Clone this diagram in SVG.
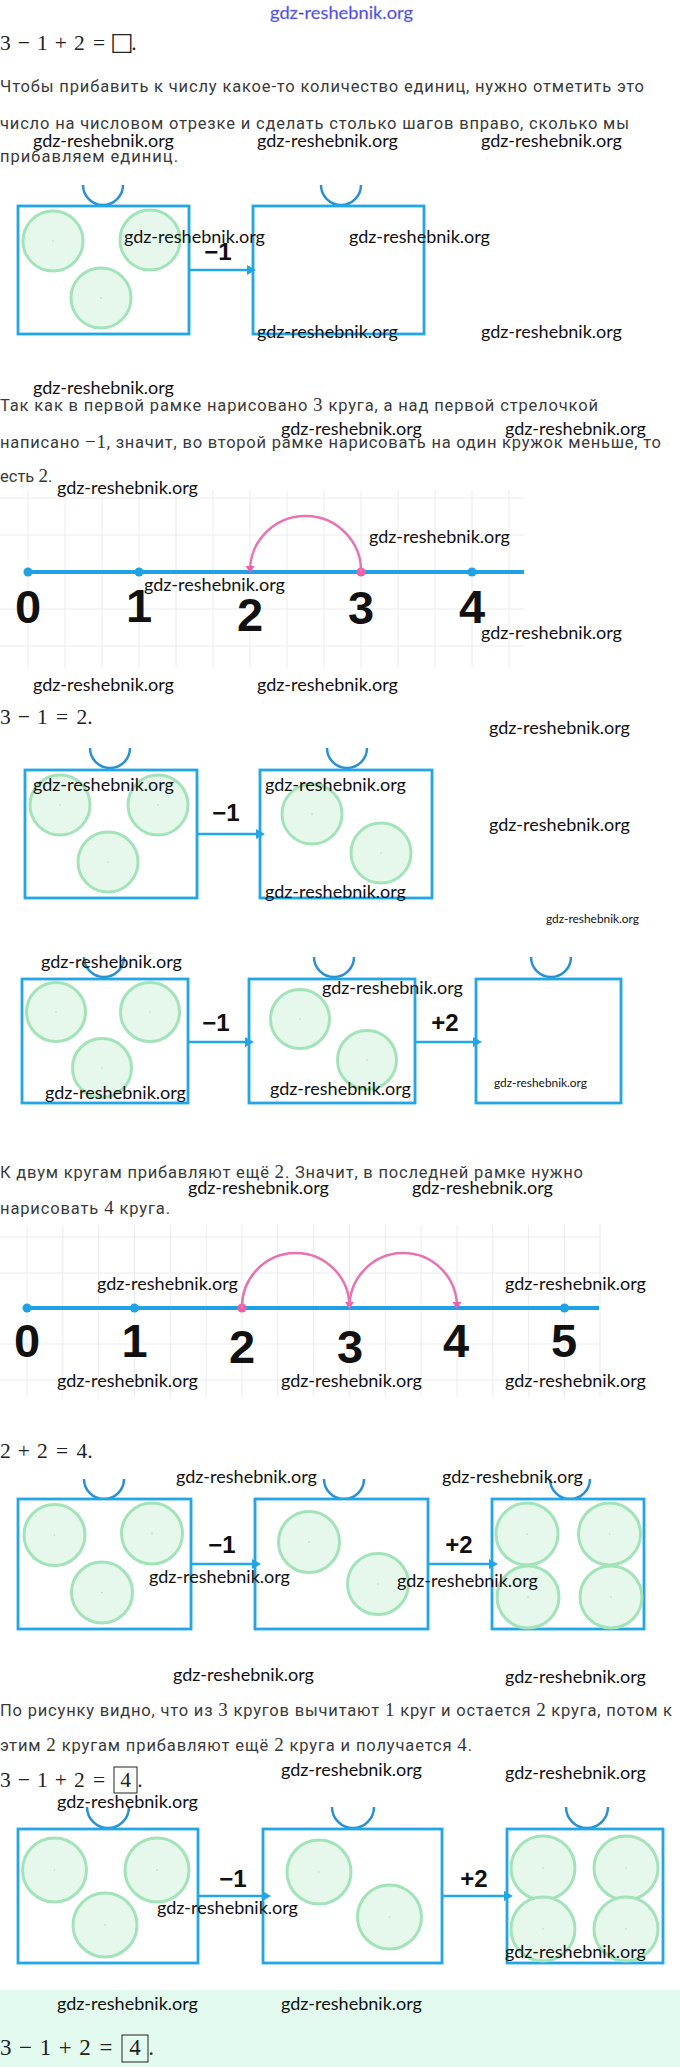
<svg xmlns="http://www.w3.org/2000/svg" width="680" height="2067" viewBox="0 0 680 2067">
<defs>
<style>
.t{font-family:Roboto,"Noto Sans","DejaVu Sans",sans-serif;font-size:16.5px;fill:#3a3a3a}
.mi{font-family:"Liberation Serif","DejaVu Serif",serif;font-size:19px;fill:#333}
.m{font-family:"Liberation Serif","DejaVu Serif",serif;font-size:21.5px;fill:#222;text-anchor:middle}
.m2{font-family:"Liberation Serif","DejaVu Serif",serif;font-size:23px;fill:#222;text-anchor:middle}
.w{font-family:Lato,"Liberation Sans",sans-serif;font-size:17.5px;fill:#111}
.ws{font-family:Lato,"Liberation Sans",sans-serif;font-size:11.5px;fill:#111}
.hd{font-family:Lato,"Liberation Sans",sans-serif;font-size:17px;fill:#3b3bd6;stroke:#9aa0f0;stroke-width:0.4}
.fr{fill:#fff;stroke:#22a6e6;stroke-width:2.8}
.cup{fill:none;stroke:#2a90d4;stroke-width:2.5}
.c{fill:#e6f8eb;stroke:#a3e3b9;stroke-width:3}
.cd{fill:#b5d9c0}
.cn{stroke:#22a6e6;stroke-width:2.6;fill:none;marker-end:url(#ah)}
.lb{font-family:"Liberation Sans",Arial,sans-serif;font-weight:bold;font-size:24px;fill:#111;text-anchor:middle}
.num{font-family:"Liberation Sans",Arial,sans-serif;font-weight:bold;font-size:47px;fill:#111;text-anchor:middle}
.gr{stroke:#ececec;stroke-width:1}
.ax{stroke:#1fa2e5;stroke-width:4}
.bd{fill:#1fa2e5}
.pd{fill:#ea5fa8}
.hop{fill:none;stroke:#e873b0;stroke-width:2.5;marker-end:url(#ph)}
.bx{fill:none;stroke:#222;stroke-width:1}
</style>
<marker id="ah" markerUnits="userSpaceOnUse" markerWidth="12" markerHeight="12" refX="3" refY="5" orient="auto">
<path d="M0,0 L9,5 L0,10 z" fill="#22a6e6"/>
</marker>
<marker id="ph" markerUnits="userSpaceOnUse" markerWidth="12" markerHeight="12" refX="4" refY="4.5" orient="auto">
<path d="M0,0 L7,4.5 L0,9 z" fill="#ea5fa8"/>
</marker>
</defs>
<rect width="680" height="2067" fill="#fff"/>
<rect x="0" y="1990" width="680" height="77" fill="#e3fbee"/>

<text class="hd" x="270" y="19" textLength="143" lengthAdjust="spacingAndGlyphs">gdz-reshebnik.org</text>

<g id="formula-1">
<text class="m" y="50"><tspan x="5.4">3</tspan><tspan x="23.9">−</tspan><tspan x="42.4">1</tspan><tspan x="60.9">+</tspan><tspan x="79.4">2</tspan><tspan x="99.1">=</tspan><tspan x="122" style="font-family:'DejaVu Sans',sans-serif;font-size:25px">□</tspan><tspan x="134">.</tspan></text>
</g>

<g id="text-1">
<text class="t" x="0" y="92" textLength="644">Чтобы прибавить к числу какое-то количество единиц, нужно отметить это</text>
<text class="t" x="0" y="129" textLength="629">число на числовом отрезке и сделать столько шагов вправо, сколько мы</text>
<text class="t" x="0" y="162" textLength="178">прибавляем единиц.</text>
</g>

<!-- Diagram A -->
<g id="diagA">
<g id="A-frame1">
<path class="cup" d="M83 185 A20 20 0 0 0 123 185"/>
<rect class="fr" x="18" y="206" width="171" height="128"/>
<circle class="c" cx="53" cy="241" r="30"/><circle class="cd" cx="53" cy="241" r="0.8"/>
<circle class="c" cx="150" cy="240" r="30"/><circle class="cd" cx="150" cy="240" r="0.8"/>
<circle class="c" cx="101" cy="298" r="30"/><circle class="cd" cx="101" cy="298" r="0.8"/>
</g>
<g id="A-frame2">
<path class="cup" d="M321 185 A20 20 0 0 0 361 185"/>
<rect class="fr" x="253" y="206" width="171" height="128"/>
</g>
<g id="A-connectors">
<line class="cn" x1="189" y1="270" x2="250" y2="270"/>
<text class="lb" x="218" y="260">−1</text>
</g>
</g>

<g id="text-2">
<text class="t" x="0" y="411" textLength="598">Так как в первой рамке нарисовано <tspan class="mi">3</tspan> круга, а над первой стрелочкой</text>
<text class="t" x="0" y="448" textLength="661">написано <tspan class="mi">−1</tspan>, значит, во второй рамке нарисовать на один кружок меньше, то</text>
<text class="t" x="0" y="482">есть <tspan class="mi">2</tspan>.</text>
</g>

<!-- Number line 1 -->
<g id="numberline-1">
<g id="NL1-grid">
<line class="gr" x1="0" y1="498" x2="524" y2="498"/>
<line class="gr" x1="0" y1="535" x2="524" y2="535"/>
<line class="gr" x1="0" y1="609" x2="524" y2="609"/>
<line class="gr" x1="0" y1="646" x2="524" y2="646"/>
<line class="gr" x1="28" y1="490" x2="28" y2="668"/>
<line class="gr" x1="65" y1="490" x2="65" y2="668"/>
<line class="gr" x1="102" y1="490" x2="102" y2="668"/>
<line class="gr" x1="139" y1="490" x2="139" y2="668"/>
<line class="gr" x1="176" y1="490" x2="176" y2="668"/>
<line class="gr" x1="213" y1="490" x2="213" y2="668"/>
<line class="gr" x1="250" y1="490" x2="250" y2="668"/>
<line class="gr" x1="287" y1="490" x2="287" y2="668"/>
<line class="gr" x1="324" y1="490" x2="324" y2="668"/>
<line class="gr" x1="361" y1="490" x2="361" y2="668"/>
<line class="gr" x1="398" y1="490" x2="398" y2="668"/>
<line class="gr" x1="435" y1="490" x2="435" y2="668"/>
<line class="gr" x1="472" y1="490" x2="472" y2="668"/>
<line class="gr" x1="509" y1="490" x2="509" y2="668"/>
</g>
<line class="ax" x1="28" y1="572" x2="524" y2="572"/>
<circle class="bd" cx="28" cy="572" r="4.5"/>
<circle class="bd" cx="139" cy="572" r="4.5"/>
<circle class="pd" cx="361" cy="572" r="4.5"/>
<circle class="bd" cx="472" cy="572" r="4.5"/>
<path class="hop" d="M361 572 A55.5 55 0 0 0 250 570"/>
<text class="num" x="28" y="623">0</text>
<text class="num" x="139" y="622">1</text>
<text class="num" x="250" y="631">2</text>
<text class="num" x="361" y="624">3</text>
<text class="num" x="472" y="623">4</text>
</g>

<g id="formula-2">
<text class="m" y="724"><tspan x="5.4">3</tspan><tspan x="23.9">−</tspan><tspan x="42.4">1</tspan><tspan x="62.1">=</tspan><tspan x="81.8">2</tspan><tspan x="90">.</tspan></text>
</g>

<!-- Diagram B -->
<g id="diagB">
<g id="B-frame1">
<path class="cup" d="M90 748 A20 20 0 0 0 130 748"/>
<rect class="fr" x="25" y="770" width="172" height="128"/>
<circle class="c" cx="60" cy="805" r="30"/><circle class="cd" cx="60" cy="805" r="0.8"/>
<circle class="c" cx="158" cy="805" r="30"/><circle class="cd" cx="158" cy="805" r="0.8"/>
<circle class="c" cx="108" cy="862" r="30"/><circle class="cd" cx="108" cy="862" r="0.8"/>
</g>
<g id="B-frame2">
<path class="cup" d="M327 748 A20 20 0 0 0 367 748"/>
<rect class="fr" x="260" y="770" width="172" height="128"/>
<circle class="c" cx="312" cy="814" r="30"/><circle class="cd" cx="312" cy="814" r="0.8"/>
<circle class="c" cx="381" cy="853" r="30"/><circle class="cd" cx="381" cy="853" r="0.8"/>
</g>
<g id="B-connectors">
<line class="cn" x1="197" y1="834" x2="259" y2="834"/>
<text class="lb" x="226" y="821">−1</text>
</g>
</g>

<!-- Diagram C -->
<g id="diagC">
<g id="C-frame1">
<path class="cup" d="M84 957 A20 20 0 0 0 124 957"/>
<rect class="fr" x="22" y="979" width="166" height="124"/>
<circle class="c" cx="56" cy="1012" r="29.5"/><circle class="cd" cx="56" cy="1012" r="0.8"/>
<circle class="c" cx="150" cy="1012" r="29.5"/><circle class="cd" cx="150" cy="1012" r="0.8"/>
<circle class="c" cx="102" cy="1068" r="29.5"/><circle class="cd" cx="102" cy="1068" r="0.8"/>
</g>
<g id="C-frame2">
<path class="cup" d="M314 957 A20 20 0 0 0 354 957"/>
<rect class="fr" x="249" y="979" width="166" height="124"/>
<circle class="c" cx="300" cy="1019" r="29.5"/><circle class="cd" cx="300" cy="1019" r="0.8"/>
<circle class="c" cx="367" cy="1060" r="29.5"/><circle class="cd" cx="367" cy="1060" r="0.8"/>
</g>
<g id="C-frame3">
<path class="cup" d="M531 957 A20 20 0 0 0 571 957"/>
<rect class="fr" x="476" y="979" width="145" height="124"/>
</g>
<g id="C-connectors">
<line class="cn" x1="188" y1="1042" x2="248" y2="1042"/>
<text class="lb" x="216" y="1031">−1</text>
<line class="cn" x1="415" y1="1042" x2="476" y2="1042"/>
<text class="lb" x="445" y="1031">+2</text>
</g>
</g>

<g id="text-3">
<text class="t" x="0" y="1178" textLength="583">К двум кругам прибавляют ещё <tspan class="mi">2</tspan>. Значит, в последней рамке нужно</text>
<text class="t" x="0" y="1214" textLength="170">нарисовать <tspan class="mi">4</tspan> круга.</text>
</g>

<!-- Number line 2 -->
<g id="numberline-2">
<g id="NL2-grid">
<line class="gr" x1="0" y1="1237" x2="600" y2="1237"/>
<line class="gr" x1="0" y1="1273" x2="600" y2="1273"/>
<line class="gr" x1="0" y1="1344" x2="600" y2="1344"/>
<line class="gr" x1="0" y1="1380" x2="600" y2="1380"/>
<line class="gr" x1="27" y1="1225" x2="27" y2="1397"/>
<line class="gr" x1="62.8" y1="1225" x2="62.8" y2="1397"/>
<line class="gr" x1="98.7" y1="1225" x2="98.7" y2="1397"/>
<line class="gr" x1="134.5" y1="1225" x2="134.5" y2="1397"/>
<line class="gr" x1="170.3" y1="1225" x2="170.3" y2="1397"/>
<line class="gr" x1="206.2" y1="1225" x2="206.2" y2="1397"/>
<line class="gr" x1="242" y1="1225" x2="242" y2="1397"/>
<line class="gr" x1="277.8" y1="1225" x2="277.8" y2="1397"/>
<line class="gr" x1="313.7" y1="1225" x2="313.7" y2="1397"/>
<line class="gr" x1="349.5" y1="1225" x2="349.5" y2="1397"/>
<line class="gr" x1="385.3" y1="1225" x2="385.3" y2="1397"/>
<line class="gr" x1="421.2" y1="1225" x2="421.2" y2="1397"/>
<line class="gr" x1="457" y1="1225" x2="457" y2="1397"/>
<line class="gr" x1="492.8" y1="1225" x2="492.8" y2="1397"/>
<line class="gr" x1="528.7" y1="1225" x2="528.7" y2="1397"/>
<line class="gr" x1="564.5" y1="1225" x2="564.5" y2="1397"/>
<line class="gr" x1="600" y1="1225" x2="600" y2="1397"/>
</g>
<line class="ax" x1="27" y1="1308" x2="599" y2="1308"/>
<circle class="bd" cx="27" cy="1308" r="4.5"/>
<circle class="bd" cx="134.5" cy="1308" r="4.5"/>
<circle class="pd" cx="242" cy="1308" r="4.5"/>
<circle class="bd" cx="564.5" cy="1308" r="4.5"/>
<path class="hop" d="M242 1308 A53.75 54 0 0 1 349.5 1306"/>
<path class="hop" d="M349.5 1308 A53.75 54 0 0 1 457 1306"/>
<text class="num" x="27" y="1357">0</text>
<text class="num" x="134.5" y="1357">1</text>
<text class="num" x="242" y="1363">2</text>
<text class="num" x="350" y="1363">3</text>
<text class="num" x="456" y="1357">4</text>
<text class="num" x="564" y="1357">5</text>
</g>

<g id="formula-3">
<text class="m" y="1458"><tspan x="5.4">2</tspan><tspan x="23.9">+</tspan><tspan x="42.4">2</tspan><tspan x="62.1">=</tspan><tspan x="81.8">4</tspan><tspan x="90">.</tspan></text>
</g>

<!-- Diagram D -->
<g id="diagD">
<g id="D-frame1">
<path class="cup" d="M84 1479 A20 20 0 0 0 124 1479"/>
<rect class="fr" x="18" y="1499" width="173" height="130"/>
<circle class="c" cx="54.5" cy="1535" r="30.5"/><circle class="cd" cx="54.5" cy="1535" r="0.8"/>
<circle class="c" cx="152" cy="1533.5" r="30.5"/><circle class="cd" cx="152" cy="1533.5" r="0.8"/>
<circle class="c" cx="102" cy="1592.5" r="30.5"/><circle class="cd" cx="102" cy="1592.5" r="0.8"/>
</g>
<g id="D-frame2">
<path class="cup" d="M324 1479 A20 20 0 0 0 364 1479"/>
<rect class="fr" x="255" y="1499" width="173" height="130"/>
<circle class="c" cx="309" cy="1542" r="30.5"/><circle class="cd" cx="309" cy="1542" r="0.8"/>
<circle class="c" cx="378" cy="1584" r="30.5"/><circle class="cd" cx="378" cy="1584" r="0.8"/>
</g>
<g id="D-frame3">
<path class="cup" d="M550 1479 A20 20 0 0 0 590 1479"/>
<rect class="fr" x="492" y="1499" width="152" height="130"/>
<circle class="c" cx="527" cy="1534" r="31"/><circle class="cd" cx="527" cy="1534" r="0.8"/>
<circle class="c" cx="609.5" cy="1534" r="31"/><circle class="cd" cx="609.5" cy="1534" r="0.8"/>
<circle class="c" cx="528" cy="1597" r="31"/><circle class="cd" cx="528" cy="1597" r="0.8"/>
<circle class="c" cx="611" cy="1597" r="31"/><circle class="cd" cx="611" cy="1597" r="0.8"/>
</g>
<g id="D-connectors">
<line class="cn" x1="191" y1="1564" x2="255" y2="1564"/>
<text class="lb" x="222" y="1553">−1</text>
<line class="cn" x1="428" y1="1564" x2="492" y2="1564"/>
<text class="lb" x="459" y="1553">+2</text>
</g>
</g>

<g id="text-4">
<text class="t" x="0" y="1716" textLength="672">По рисунку видно, что из <tspan class="mi">3</tspan> кругов вычитают <tspan class="mi">1</tspan> круг и остается <tspan class="mi">2</tspan> круга, потом к</text>
<text class="t" x="0" y="1751" textLength="472">этим <tspan class="mi">2</tspan> кругам прибавляют ещё <tspan class="mi">2</tspan> круга и получается <tspan class="mi">4</tspan>.</text>
</g>

<g id="formula-4">
<text class="m" y="1787"><tspan x="5.4">3</tspan><tspan x="23.9">−</tspan><tspan x="42.4">1</tspan><tspan x="60.9">+</tspan><tspan x="79.4">2</tspan><tspan x="99.1">=</tspan><tspan x="125.5">4</tspan><tspan x="140">.</tspan></text>
<rect class="bx" x="114" y="1767" width="23" height="26"/>
</g>

<!-- Diagram E -->
<g id="diagE">
<g id="E-frame1">
<path class="cup" d="M87 1807 A21 21 0 0 0 129 1807"/>
<rect class="fr" x="18" y="1829" width="180" height="134"/>
<circle class="c" cx="54.5" cy="1870" r="32"/><circle class="cd" cx="54.5" cy="1870" r="0.8"/>
<circle class="c" cx="157" cy="1870" r="32"/><circle class="cd" cx="157" cy="1870" r="0.8"/>
<circle class="c" cx="105" cy="1925" r="32"/><circle class="cd" cx="105" cy="1925" r="0.8"/>
</g>
<g id="E-frame2">
<path class="cup" d="M332 1807 A21 21 0 0 0 374 1807"/>
<rect class="fr" x="263" y="1829" width="179" height="134"/>
<circle class="c" cx="319" cy="1872" r="32"/><circle class="cd" cx="319" cy="1872" r="0.8"/>
<circle class="c" cx="389.5" cy="1917" r="32"/><circle class="cd" cx="389.5" cy="1917" r="0.8"/>
</g>
<g id="E-frame3">
<path class="cup" d="M566 1807 A21 21 0 0 0 608 1807"/>
<rect class="fr" x="507" y="1829" width="156" height="134"/>
<circle class="c" cx="543" cy="1868" r="32"/><circle class="cd" cx="543" cy="1868" r="0.8"/>
<circle class="c" cx="626" cy="1868" r="32"/><circle class="cd" cx="626" cy="1868" r="0.8"/>
<circle class="c" cx="543" cy="1929" r="32"/><circle class="cd" cx="543" cy="1929" r="0.8"/>
<circle class="c" cx="626" cy="1929" r="32"/><circle class="cd" cx="626" cy="1929" r="0.8"/>
</g>
<g id="E-connectors">
<line class="cn" x1="198" y1="1896" x2="265" y2="1896"/>
<text class="lb" x="233" y="1887">−1</text>
<line class="cn" x1="442" y1="1896" x2="507" y2="1896"/>
<text class="lb" x="474" y="1887">+2</text>
</g>
</g>

<g id="formula-5">
<text class="m2" y="2055"><tspan x="5.75">3</tspan><tspan x="25.6">−</tspan><tspan x="45.4">1</tspan><tspan x="65.2">+</tspan><tspan x="85">2</tspan><tspan x="106">=</tspan><tspan x="135">4</tspan><tspan x="151">.</tspan></text>
<rect class="bx" x="122" y="2035" width="26" height="27"/>
</g>

<g id="watermarks">
<text class="w" x="33" y="147" textLength="141" lengthAdjust="spacingAndGlyphs">gdz-reshebnik.org</text>
<text class="w" x="257" y="147" textLength="141" lengthAdjust="spacingAndGlyphs">gdz-reshebnik.org</text>
<text class="w" x="481" y="147" textLength="141" lengthAdjust="spacingAndGlyphs">gdz-reshebnik.org</text>
<text class="w" x="124" y="243" textLength="141" lengthAdjust="spacingAndGlyphs">gdz-reshebnik.org</text>
<text class="w" x="349" y="243" textLength="141" lengthAdjust="spacingAndGlyphs">gdz-reshebnik.org</text>
<text class="w" x="257" y="338" textLength="141" lengthAdjust="spacingAndGlyphs">gdz-reshebnik.org</text>
<text class="w" x="481" y="338" textLength="141" lengthAdjust="spacingAndGlyphs">gdz-reshebnik.org</text>
<text class="w" x="33" y="394" textLength="141" lengthAdjust="spacingAndGlyphs">gdz-reshebnik.org</text>
<text class="w" x="281" y="435" textLength="141" lengthAdjust="spacingAndGlyphs">gdz-reshebnik.org</text>
<text class="w" x="505" y="435" textLength="141" lengthAdjust="spacingAndGlyphs">gdz-reshebnik.org</text>
<text class="w" x="57" y="494" textLength="141" lengthAdjust="spacingAndGlyphs">gdz-reshebnik.org</text>
<text class="w" x="369" y="543" textLength="141" lengthAdjust="spacingAndGlyphs">gdz-reshebnik.org</text>
<text class="w" x="144" y="591" textLength="141" lengthAdjust="spacingAndGlyphs">gdz-reshebnik.org</text>
<text class="w" x="481" y="639" textLength="141" lengthAdjust="spacingAndGlyphs">gdz-reshebnik.org</text>
<text class="w" x="33" y="691" textLength="141" lengthAdjust="spacingAndGlyphs">gdz-reshebnik.org</text>
<text class="w" x="257" y="691" textLength="141" lengthAdjust="spacingAndGlyphs">gdz-reshebnik.org</text>
<text class="w" x="489" y="734" textLength="141" lengthAdjust="spacingAndGlyphs">gdz-reshebnik.org</text>
<text class="w" x="33" y="791" textLength="141" lengthAdjust="spacingAndGlyphs">gdz-reshebnik.org</text>
<text class="w" x="265" y="791" textLength="141" lengthAdjust="spacingAndGlyphs">gdz-reshebnik.org</text>
<text class="w" x="489" y="831" textLength="141" lengthAdjust="spacingAndGlyphs">gdz-reshebnik.org</text>
<text class="w" x="265" y="898" textLength="141" lengthAdjust="spacingAndGlyphs">gdz-reshebnik.org</text>
<text class="ws" x="546" y="923" textLength="93" lengthAdjust="spacingAndGlyphs">gdz-reshebnik.org</text>
<text class="w" x="41" y="968" textLength="141" lengthAdjust="spacingAndGlyphs">gdz-reshebnik.org</text>
<text class="w" x="322" y="994" textLength="141" lengthAdjust="spacingAndGlyphs">gdz-reshebnik.org</text>
<text class="w" x="45" y="1099" textLength="141" lengthAdjust="spacingAndGlyphs">gdz-reshebnik.org</text>
<text class="w" x="270" y="1095" textLength="141" lengthAdjust="spacingAndGlyphs">gdz-reshebnik.org</text>
<text class="ws" x="494" y="1087" textLength="93" lengthAdjust="spacingAndGlyphs">gdz-reshebnik.org</text>
<text class="w" x="188" y="1194" textLength="141" lengthAdjust="spacingAndGlyphs">gdz-reshebnik.org</text>
<text class="w" x="412" y="1194" textLength="141" lengthAdjust="spacingAndGlyphs">gdz-reshebnik.org</text>
<text class="w" x="97" y="1290" textLength="141" lengthAdjust="spacingAndGlyphs">gdz-reshebnik.org</text>
<text class="w" x="505" y="1290" textLength="141" lengthAdjust="spacingAndGlyphs">gdz-reshebnik.org</text>
<text class="w" x="57" y="1387" textLength="141" lengthAdjust="spacingAndGlyphs">gdz-reshebnik.org</text>
<text class="w" x="281" y="1387" textLength="141" lengthAdjust="spacingAndGlyphs">gdz-reshebnik.org</text>
<text class="w" x="505" y="1387" textLength="141" lengthAdjust="spacingAndGlyphs">gdz-reshebnik.org</text>
<text class="w" x="176" y="1483" textLength="141" lengthAdjust="spacingAndGlyphs">gdz-reshebnik.org</text>
<text class="w" x="442" y="1483" textLength="141" lengthAdjust="spacingAndGlyphs">gdz-reshebnik.org</text>
<text class="w" x="149" y="1583" textLength="141" lengthAdjust="spacingAndGlyphs">gdz-reshebnik.org</text>
<text class="w" x="397" y="1587" textLength="141" lengthAdjust="spacingAndGlyphs">gdz-reshebnik.org</text>
<text class="w" x="173" y="1681" textLength="141" lengthAdjust="spacingAndGlyphs">gdz-reshebnik.org</text>
<text class="w" x="505" y="1683" textLength="141" lengthAdjust="spacingAndGlyphs">gdz-reshebnik.org</text>
<text class="w" x="281" y="1776" textLength="141" lengthAdjust="spacingAndGlyphs">gdz-reshebnik.org</text>
<text class="w" x="505" y="1779" textLength="141" lengthAdjust="spacingAndGlyphs">gdz-reshebnik.org</text>
<text class="w" x="57" y="1808" textLength="141" lengthAdjust="spacingAndGlyphs">gdz-reshebnik.org</text>
<text class="w" x="157" y="1914" textLength="141" lengthAdjust="spacingAndGlyphs">gdz-reshebnik.org</text>
<text class="w" x="505" y="1958" textLength="141" lengthAdjust="spacingAndGlyphs">gdz-reshebnik.org</text>
<text class="w" x="57" y="2010" textLength="141" lengthAdjust="spacingAndGlyphs">gdz-reshebnik.org</text>
<text class="w" x="281" y="2010" textLength="141" lengthAdjust="spacingAndGlyphs">gdz-reshebnik.org</text>
</g>
</svg>
